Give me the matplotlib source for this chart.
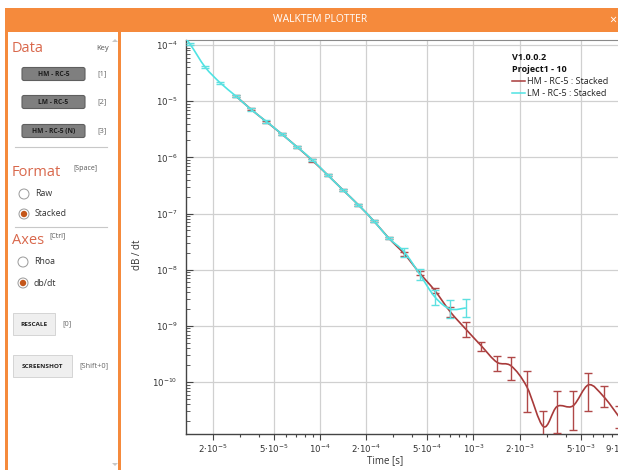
import numpy as np
import matplotlib
matplotlib.use('Agg')
import matplotlib.pyplot as plt
from matplotlib.path import Path
from matplotlib.patches import PathPatch, Rectangle, FancyBboxPatch, Circle, Polygon
from matplotlib.ticker import FixedLocator, FixedFormatter, NullFormatter

# ---- data ----
# LM - RC-5 : Stacked (cyan)
lm_t = [1.12e-5, 1.42e-5, 1.78e-5, 2.24e-5, 2.82e-5, 3.55e-5, 4.47e-5, 5.62e-5,
        7.08e-5, 8.91e-5, 1.12e-4, 1.41e-4, 1.78e-4, 2.23e-4, 2.81e-4, 3.54e-4,
        4.45e-4, 5.6e-4, 7.05e-4, 8.92e-4]
lm_y = [2.5e-4, 1.04e-4, 4.06e-5, 2.11e-5, 1.24e-5, 7.12e-6, 4.35e-6, 2.61e-6,
        1.53e-6, 8.99e-7, 4.86e-7, 2.63e-7, 1.42e-7, 7.48e-8, 3.63e-8, 2.07e-8,
        8.4e-9, 3.28e-9, 2.0e-9, 2.09e-9]
# error bar half widths in decades (upper, lower)
lm_up = [0.02, 0.02, 0.02, 0.02, 0.02, 0.02, 0.02, 0.02, 0.02, 0.02, 0.02, 0.02,
         0.02, 0.02, 0.02, 0.07, 0.09, 0.125, 0.16, 0.155]
lm_dn = [0.02, 0.02, 0.02, 0.02, 0.02, 0.02, 0.02, 0.02, 0.02, 0.02, 0.02, 0.02,
         0.02, 0.02, 0.02, 0.09, 0.11, 0.14, 0.16, 0.165]

# HM - RC-5 : Stacked (dark red)
hm_t = [2.82e-5, 3.55e-5, 4.47e-5, 5.62e-5, 7.08e-5, 8.91e-5, 1.12e-4, 1.41e-4,
        1.78e-4, 2.23e-4, 2.81e-4, 3.54e-4, 4.45e-4, 5.6e-4, 7.05e-4, 8.92e-4,
        1.12e-3, 1.42e-3, 1.76e-3, 2.23e-3, 2.86e-3, 3.5e-3, 4.45e-3, 5.62e-3,
        7.05e-3, 8.9e-3, 1.12e-2]
hm_y = [1.24e-5, 7.16e-6, 4.31e-6, 2.61e-6, 1.53e-6, 8.81e-7, 4.86e-7, 2.63e-7,
        1.42e-7, 7.48e-8, 3.63e-8, 1.91e-8, 8.77e-9, 4.25e-9, 1.79e-9, 8.73e-10,
        4.47e-10, 2.26e-10, 1.94e-10, 8.2e-11, 1.61e-11, 3.66e-11, 3.77e-11, 8.91e-11,
        5.52e-11, 2.4e-11, 1.0e-11]
hm_up = [0.02, 0.02, 0.02, 0.02, 0.02, 0.02, 0.02, 0.02, 0.02, 0.02, 0.02, 0.03,
         0.03, 0.045, 0.09, 0.135, 0.071, 0.117, 0.155, 0.29, 0.28, 0.279, 0.266,
         0.219, 0.196, 0.2, 0.2]
hm_dn = [0.02, 0.02, 0.02, 0.02, 0.02, 0.02, 0.02, 0.02, 0.02, 0.02, 0.02, 0.03,
         0.03, 0.045, 0.09, 0.142, 0.089, 0.15, 0.252, 0.45, 0.6, 0.473, 0.428,
         0.462, 0.189, 0.2, 0.2]

x_ticks = [2e-5, 5e-5, 1e-4, 2e-4, 5e-4, 1e-3, 2e-3, 5e-3, 9e-3]
x_labels = [r'$2{\cdot}10^{-5}$', r'$5{\cdot}10^{-5}$', r'$10^{-4}$', r'$2{\cdot}10^{-4}$',
            r'$5{\cdot}10^{-4}$', r'$10^{-3}$', r'$2{\cdot}10^{-3}$', r'$5{\cdot}10^{-3}$',
            r'$9{\cdot}10^{-3}$']
y_ticks = [1e-4, 1e-5, 1e-6, 1e-7, 1e-8, 1e-9, 1e-10]
y_labels = [r'$10^{-4}$', r'$10^{-5}$', r'$10^{-6}$', r'$10^{-7}$', r'$10^{-8}$',
            r'$10^{-9}$', r'$10^{-10}$']

HM_COL = '#a83a3a'
LM_COL = '#4fe3e3'
ORANGE = '#f58a3c'
HEAD = '#d9684c'

plt.rcParams['font.family'] = ['Open Sans', 'DejaVu Sans']
plt.rcParams['mathtext.fontset'] = 'dejavusans'

W, H = 618, 470
fig = plt.figure(figsize=(W / 100, H / 100), dpi=100)
fig.patch.set_facecolor('white')

# ---- window chrome and side panel, drawn in pixel coords ----
bg = fig.add_axes([0, 0, 1, 1])
bg.set_xlim(0, W)
bg.set_ylim(H, 0)
bg.axis('off')

bg.add_patch(Rectangle((5, 8), W - 5, 24, color=ORANGE, lw=0))
bg.text(320, 20, 'WALKTEM PLOTTER', color='white', fontsize=7.5, ha='center', va='center')
bg.text(613, 20, '×', color='white', fontsize=9, ha='center', va='center')
bg.add_patch(Rectangle((5, 32), 3, H - 32, color=ORANGE, lw=0))
bg.add_patch(Rectangle((118, 32), 2.5, H - 32, color=ORANGE, lw=0))

bg.text(12, 48, 'Data', color=HEAD, fontsize=10.5, va='center')
bg.text(103, 49, 'Key', color='#555555', fontsize=5.5, ha='center', va='center')
for yc, name, key in [(74, 'HM - RC-5', '[1]'), (102, 'LM - RC-5', '[2]'),
                      (131, 'HM - RC-5 (N)', '[3]')]:
    bg.add_patch(FancyBboxPatch((22, yc - 6.5), 63, 13, boxstyle='round,pad=0,rounding_size=2',
                                fc='#7f7f7f', ec='#5f5f5f', lw=0.8))
    bg.text(53.5, yc, name, color='#1c1c1c', fontsize=4.8, fontweight='bold',
            ha='center', va='center')
    bg.text(102, yc, key, color='#666666', fontsize=5.5, ha='center', va='center')
bg.plot([15, 107], [147, 147], color='#c8c8c8', lw=0.8)

bg.text(12, 172, 'Format', color=HEAD, fontsize=10.5, va='center')
bg.text(73, 169, '[Space]', color='#555555', fontsize=5, va='center')
for yc, name, on in [(194, 'Raw', False), (214, 'Stacked', True)]:
    bg.add_patch(Circle((24, yc), 5, fc='white', ec='#9a9a9a', lw=0.7))
    if on:
        bg.add_patch(Circle((24, yc), 3.2, fc='#c4571a', ec='none'))
    bg.text(35, yc, name, color='#333333', fontsize=6.3, va='center')
bg.plot([15, 107], [227, 227], color='#c8c8c8', lw=0.8)

bg.text(12, 240, 'Axes', color=HEAD, fontsize=10.5, va='center')
bg.text(49, 236, '[Ctrl]', color='#555555', fontsize=5, va='center')
for yc, name, on in [(262, 'Rhoa', False), (283, 'db/dt', True)]:
    bg.add_patch(Circle((23, yc), 5, fc='white', ec='#9a9a9a', lw=0.7))
    if on:
        bg.add_patch(Circle((23, yc), 3.2, fc='#c4571a', ec='none'))
    bg.text(34, yc, name, color='#333333', fontsize=6.3, va='center')

for x0, x1, yc, name, key in [(13, 55, 324, 'RESCALE', '[0]'),
                              (13, 72, 366, 'SCREENSHOT', '[Shift+0]')]:
    bg.add_patch(Rectangle((x0, yc - 11), x1 - x0, 22, fc='#efefef', ec='#d4d4d4', lw=0.7))
    bg.text((x0 + x1) / 2, yc, name, color='#222222', fontsize=4.6, fontweight='bold',
            ha='center', va='center')
    bg.text(x1 + 7, yc, key, color='#666666', fontsize=5.3, va='center')

bg.add_patch(Polygon([[112, 42], [115, 39], [118, 42]], closed=True, fc='#c8c8c8', ec='none'))
bg.add_patch(Polygon([[112, 463], [115, 466], [118, 463]], closed=True, fc='#c8c8c8', ec='none'))

# ---- the plot itself ----
ax = fig.add_axes([186 / W, (H - 434) / H, (639 - 186) / W, (434 - 40) / H])
ax.set_facecolor('white')
ax.set_xscale('log')
ax.set_yscale('log')


def smooth_line(t, y, color, lw, z):
    P = np.column_stack([np.log10(t), np.log10(y)])
    n = len(P)
    verts = [P[0]]
    codes = [Path.MOVETO]
    for i in range(n - 1):
        a = P[max(i - 1, 0)]
        d = P[min(i + 2, n - 1)]
        verts += [P[i] + (P[i + 1] - a) / 6, P[i + 1] - (d - P[i]) / 6, P[i + 1]]
        codes += [Path.CURVE4] * 3
    path = Path(10 ** np.array(verts), codes)
    ax.add_patch(PathPatch(path, fill=False, ec=color, lw=lw, zorder=z))


def bars(t, y, up, dn, color, z):
    y = np.array(y)
    hi = y * 10 ** np.array(up)
    lo = y / 10 ** np.array(dn)
    ax.errorbar(t, y, yerr=[y - lo, hi - y], fmt='none', ecolor=color, elinewidth=1.0,
                capsize=2.8, capthick=1.0, zorder=z)


smooth_line(hm_t, hm_y, HM_COL, 1.2, 3)
bars(hm_t, hm_y, hm_up, hm_dn, '#b04848', 3)
smooth_line(lm_t, lm_y, LM_COL, 1.2, 4)
bars(lm_t, lm_y, lm_up, lm_dn, '#5ee0e0', 4)

ax.set_xlim(1.336e-5, 1.2e-2)
ax.set_ylim(1.19e-11, 1.23e-4)

ax.xaxis.set_major_locator(FixedLocator(x_ticks))
ax.xaxis.set_major_formatter(FixedFormatter(x_labels))
ax.xaxis.set_minor_locator(FixedLocator([m * 10.0 ** e for e in range(-5, -1)
                                         for m in (3, 4, 6, 7, 8, 9)]))
ax.xaxis.set_minor_formatter(NullFormatter())
ax.yaxis.set_major_locator(FixedLocator(y_ticks))
ax.yaxis.set_major_formatter(FixedFormatter(y_labels))
ax.yaxis.set_minor_locator(FixedLocator([m * 10.0 ** e for e in range(-11, -3)
                                         for m in range(2, 10)]))
ax.yaxis.set_minor_formatter(NullFormatter())

ax.tick_params(axis='x', which='major', direction='out', length=4, width=0.8,
               colors='#444444', labelsize=6.2, labelcolor='#333333', pad=2)
ax.tick_params(axis='x', which='minor', direction='out', length=2.5, width=0.8, colors='#444444')
ax.tick_params(axis='y', which='major', direction='in', length=5, width=0.8,
               colors='#444444', labelsize=6.2, labelcolor='#333333', pad=6)
ax.tick_params(axis='y', which='minor', direction='in', length=3, width=0.6, colors='#444444')

ax.grid(True, which='major', color='#d0d0d0', lw=0.9)
ax.set_axisbelow(True)
for s in ('left', 'bottom'):
    ax.spines[s].set_color('#444444')
    ax.spines[s].set_linewidth(1.0)
ax.spines['top'].set_color('#8a8a8a')
ax.spines['top'].set_linewidth(0.8)
ax.spines['right'].set_visible(False)

ax.set_xlabel('Time [s]', fontsize=7, color='#333333')
ax.xaxis.set_label_coords((385 - 186) / (639 - 186), -(461 - 434) / (434 - 40))
ax.set_ylabel('dB / dt', fontsize=7, color='#333333')
ax.yaxis.set_label_coords(-(186 - 137) / (639 - 186), (434 - 255) / (434 - 40))
ax.xaxis.label.set_va('center')
ax.yaxis.label.set_va('center')

# text block / legend in the upper right
bg.set_zorder(0)
ax.set_zorder(1)
top = fig.add_axes([0, 0, 1, 1])
top.set_xlim(0, W)
top.set_ylim(H, 0)
top.axis('off')
top.set_zorder(2)
top.text(512, 57, 'V1.0.0.2', fontsize=6.5, fontweight='bold', color='#111111', va='center')
top.text(512, 69, 'Project1 - 10', fontsize=6.5, fontweight='bold', color='#111111', va='center')
top.plot([512, 525], [81, 81], color=HM_COL, lw=1.1)
top.text(527, 81, 'HM - RC-5 : Stacked', fontsize=6.5, color='#222222', va='center')
top.plot([512, 525], [93, 93], color=LM_COL, lw=1.1)
top.text(527, 93, 'LM - RC-5 : Stacked', fontsize=6.5, color='#222222', va='center')

fig.savefig('out.png', dpi=100)
